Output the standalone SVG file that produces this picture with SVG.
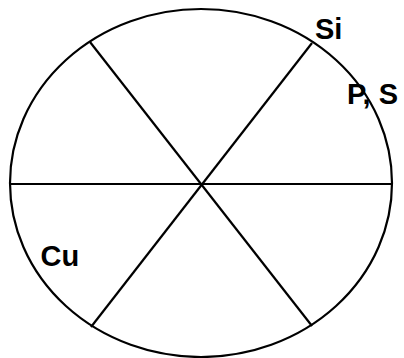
<svg xmlns="http://www.w3.org/2000/svg" width="404" height="358" viewBox="0 0 404 358">
<style>
.s{fill:none;stroke:#000;stroke-width:2.2}
.t{font-family:"Liberation Sans",Arial,sans-serif;font-weight:bold;font-size:29px;fill:#000}
</style>
<rect width="404" height="358" fill="#fff"/>
<ellipse id="circle" class="s" cx="201" cy="183" rx="191" ry="174"/>
<g id="lines" class="s">
<line x1="10" y1="184" x2="391" y2="184"/>
<line x1="90" y1="42" x2="312" y2="326"/>
<line x1="91" y1="327" x2="312" y2="43"/>
</g>
<g id="labels">
<text class="t" x="315" y="38.5">Si</text>
<text class="t" x="347" y="104">P, S</text>
<text class="t" x="40.5" y="265.5">Cu</text>
</g>
</svg>
